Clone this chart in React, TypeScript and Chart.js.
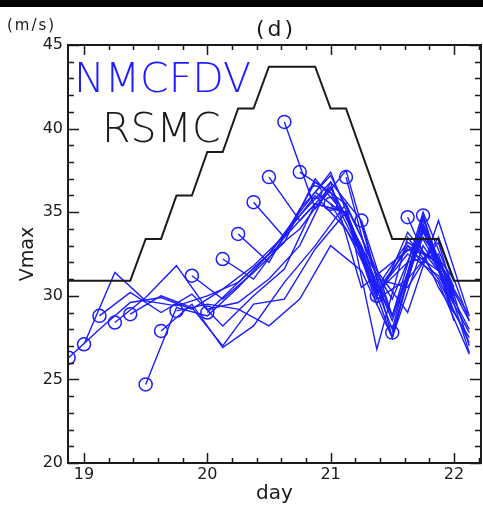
import React, { useEffect, useRef } from 'react';
import { Chart, registerables } from 'chart.js';

Chart.register(...registerables);

// ---- axis ranges and ticks ----
const xRange = [18.87, 22.22];
const yRange = [20, 45];
const xTickValues = [19, 20, 21, 22];
const yTickValues = [20, 25, 30, 35, 40, 45];
const xMinorStep = 0.2;
const yMinorStep = 1;

// ---- RSMC best track (day, m/s) ----
const rsmcDays = [18.75, 19.375, 19.5, 19.625, 19.75, 19.875, 20.0, 20.125, 20.25, 20.375, 20.5, 20.875, 21.0, 21.125, 21.5, 21.875, 22.0, 22.25];
const rsmcVmax = [30.9, 30.9, 33.4, 33.4, 36.0, 36.0, 38.6, 38.6, 41.2, 41.2, 43.7, 43.7, 41.2, 41.2, 33.4, 33.4, 30.9, 30.9];

// ---- NMCFDV forecasts: start day, values every 6 h ----
const forecastStep = 0.25;
const forecastStarts = [18.875, 19.0, 19.125, 19.25, 19.375, 19.5, 19.625, 19.75, 19.875, 20.0, 20.125, 20.25, 20.375, 20.5, 20.625, 20.75, 20.875, 21.0, 21.125, 21.25, 21.375, 21.5, 21.625, 21.75];
const fc00 = [26.3, 28.0, 29.6, 29.9, 29.2, 30.4, 31.8, 33.6, 36.0, 34.0, 30.3, 32.8, 31.5];
const fc01 = [27.1, 31.4, 29.7, 29.4, 30.0, 30.8, 32.5, 34.8, 36.8, 30.5, 32.0, 33.4, 30.0];
const fc02 = [28.8, 30.2, 29.0, 30.1, 28.2, 30.0, 31.6, 35.5, 35.0, 30.5, 33.2, 32.0, 28.5];
const fc03 = [28.4, 29.9, 31.8, 29.2, 29.6, 31.0, 33.0, 36.8, 34.5, 28.8, 33.5, 31.0];
const fc04 = [28.9, 30.0, 29.3, 27.0, 29.5, 29.8, 32.8, 35.0, 30.0, 33.0, 32.0, 28.8];
const fc05 = [24.7, 29.3, 28.8, 30.5, 32.5, 34.0, 36.5, 33.0, 28.5, 33.8, 30.5];
const fc06 = [27.9, 29.5, 26.9, 28.2, 30.8, 33.0, 35.5, 31.5, 29.0, 34.5, 28.8];
const fc07 = [29.1, 29.5, 29.2, 28.2, 29.8, 33.0, 31.5, 27.5, 33.0, 30.2];
const fc08 = [31.2, 29.8, 31.4, 33.2, 37.0, 34.8, 30.2, 32.5, 31.2, 27.8];
const fc09 = [29.0, 30.8, 32.5, 35.0, 37.4, 32.8, 29.8, 34.3, 30.0];
const fc10 = [32.2, 31.0, 33.5, 35.5, 35.0, 29.5, 33.8, 31.5, 28.0];
const fc11 = [33.7, 32.0, 35.2, 37.2, 33.5, 28.8, 34.0, 29.5];
const fc12 = [35.6, 33.5, 36.8, 35.5, 26.8, 33.5, 31.0, 27.2];
const fc13 = [37.1, 34.5, 36.5, 32.8, 28.0, 34.8, 29.0];
const fc14 = [40.4, 35.2, 37.5, 31.0, 30.5, 33.5, 28.5];
const fc15 = [37.4, 36.2, 32.5, 27.5, 34.6, 29.8];
const fc16 = [36.2, 34.8, 29.8, 31.0, 33.2, 27.0];
const fc17 = [35.5, 32.5, 28.8, 35.0, 30.5];
const fc18 = [37.1, 30.2, 32.0, 32.5, 26.6];
const fc19 = [34.5, 27.5, 34.2, 29.5];
const fc20 = [30.0, 33.0, 30.8, 26.5];
const fc21 = [27.8, 34.0, 29.0];
const fc22 = [34.7, 30.5, 27.5];
const fc23 = [34.8, 28.5];
const forecastValues = [fc00, fc01, fc02, fc03, fc04, fc05, fc06, fc07, fc08, fc09, fc10, fc11, fc12, fc13, fc14, fc15, fc16, fc17, fc18, fc19, fc20, fc21, fc22, fc23];

const BLUE = '#1c1cff';
const INK = '#1a1a1a';
const FONT = '"DejaVu Sans", sans-serif';

const framePlugin = {
  id: 'frameTicks',
  afterDraw(chart: any) {
    const { ctx, chartArea, scales } = chart;
    const { left, right, top, bottom } = chartArea;
    const xs = scales.x;
    const ys = scales.y;
    ctx.save();
    ctx.strokeStyle = INK;
    ctx.lineWidth = 1.5;
    ctx.beginPath();
    const x0 = Math.ceil(xRange[0] / xMinorStep - 1e-6);
    const x1 = Math.floor(xRange[1] / xMinorStep + 1e-6);
    for (let i = x0; i <= x1; i++) {
      const v = i * xMinorStep;
      const major = Math.abs(v - Math.round(v)) < 1e-6;
      const len = major ? 10 : 5;
      const px = Math.round(xs.getPixelForValue(v)) + 0.5;
      ctx.moveTo(px, bottom);
      ctx.lineTo(px, bottom - len);
      ctx.moveTo(px, top);
      ctx.lineTo(px, top + len);
    }
    for (let v = yRange[0]; v <= yRange[1]; v += yMinorStep) {
      const major = v % 5 === 0;
      const len = major ? 11 : 6;
      const py = Math.round(ys.getPixelForValue(v)) + 0.5;
      ctx.moveTo(left, py);
      ctx.lineTo(left + len, py);
      ctx.moveTo(right, py);
      ctx.lineTo(right - len, py);
    }
    ctx.stroke();
    ctx.lineWidth = 2;
    ctx.strokeRect(left, top, right - left, bottom - top);

    ctx.fillStyle = INK;
    ctx.textBaseline = 'alphabetic';
    ctx.textAlign = 'left';
    ctx.font = `15px ${FONT}`;
    (ctx as any).letterSpacing = '2px';
    ctx.fillText('(m/s)', 7, 30);
    ctx.textAlign = 'center';
    ctx.font = `22px ${FONT}`;
    (ctx as any).letterSpacing = '3px';
    ctx.fillText('(d)', 276, 36);
    (ctx as any).letterSpacing = '0px';
    ctx.textAlign = 'left';
    ctx.font = `200 41px ${FONT}`;
    ctx.fillStyle = BLUE;
    ctx.fillText('NMCFDV', 74, 92);
    ctx.fillStyle = INK;
    ctx.fillText('RSMC', 102, 142);

    ctx.fillStyle = '#000';
    ctx.fillRect(0, 0, chart.width, 7);
    ctx.restore();
  },
};

export default function App() {
  const ref = useRef<HTMLCanvasElement | null>(null);

  useEffect(() => {
    const canvas = ref.current;
    if (!canvas) return;

    const forecastSets = forecastValues.map((vals, i) => ({
      label: `NMCFDV ${forecastStarts[i]}`,
      data: vals.map((v, j) => ({ x: forecastStarts[i] + j * forecastStep, y: v })),
      borderColor: BLUE,
      borderWidth: 1.4,
      pointRadius: (c: any) => (c.dataIndex === 0 ? 6.5 : 0),
      pointBorderColor: BLUE,
      pointBackgroundColor: 'rgba(0,0,0,0)',
      pointBorderWidth: 1.5,
      tension: 0,
      fill: false,
      order: 2,
    }));

    const rsmcSet = {
      label: 'RSMC',
      data: rsmcDays.map((d, i) => ({ x: d, y: rsmcVmax[i] })),
      borderColor: INK,
      borderWidth: 2,
      pointRadius: 0,
      tension: 0,
      fill: false,
      order: 1,
    };

    const chart = new Chart(canvas, {
      type: 'line',
      data: { datasets: [...forecastSets, rsmcSet] as any },
      options: {
        responsive: false,
        animation: false,
        devicePixelRatio: 1,
        layout: { autoPadding: false, padding: { top: 45, right: 2, left: 0, bottom: 0 } },
        plugins: {
          legend: { display: false },
          tooltip: { enabled: false },
          title: { display: false },
        },
        scales: {
          x: {
            type: 'linear',
            min: xRange[0],
            max: xRange[1],
            grid: { display: false, drawTicks: false },
            border: { display: false },
            afterBuildTicks: (s: any) => {
              s.ticks = xTickValues.map((v) => ({ value: v }));
            },
            afterFit: (s: any) => {
              s.height = 43;
              s.paddingLeft = 0;
              s.paddingRight = 0;
            },
            ticks: {
              padding: 2,
              color: INK,
              font: { family: FONT, size: 16 },
              maxRotation: 0,
              autoSkip: false,
              callback: (v: any) => String(v),
            },
            title: {
              display: true,
              text: 'day',
              color: INK,
              font: { family: FONT, size: 20 },
              padding: { top: 0, bottom: 0 },
            },
          },
          y: {
            type: 'linear',
            min: yRange[0],
            max: yRange[1],
            grid: { display: false, drawTicks: false },
            border: { display: false },
            afterBuildTicks: (s: any) => {
              s.ticks = yTickValues.map((v) => ({ value: v }));
            },
            afterFit: (s: any) => {
              s.width = 68;
              s.paddingTop = 0;
              s.paddingBottom = 0;
            },
            ticks: {
              padding: 5,
              color: INK,
              font: { family: FONT, size: 16 },
              callback: (v: any) => String(v),
            },
            title: {
              display: true,
              text: 'Vmax',
              color: INK,
              font: { family: FONT, size: 19 },
              padding: { top: 17, bottom: 0 },
            },
          },
        },
      },
      plugins: [framePlugin],
    } as any);

    return () => chart.destroy();
  }, []);

  return (
    <div style={{ position: 'fixed', left: 0, top: 0, width: 483, height: 506, background: '#fff' }}>
      <canvas ref={ref} width={483} height={506} style={{ display: 'block', width: 483, height: 506 }} />
    </div>
  );
}
